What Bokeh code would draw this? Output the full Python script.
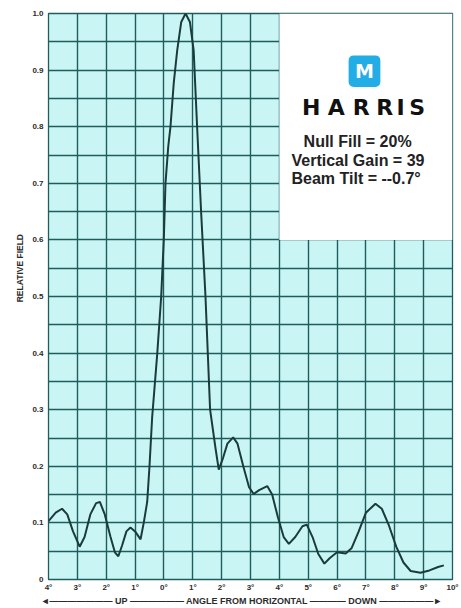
from bokeh.plotting import figure
from bokeh.models import Range1d, FixedTicker, Label, BoxAnnotation
from bokeh.embed import file_html
from bokeh.resources import INLINE

# ---- data ----
angle = [-4.00, -3.75, -3.53, -3.35, -3.15, -2.92, -2.75, -2.55, -2.35, -2.22,
         -2.05, -1.85, -1.70, -1.58, -1.45, -1.30, -1.16, -1.00, -0.81, -0.70,
         -0.58, -0.50, -0.41, -0.23, -0.095, -0.005, 0.054, 0.15, 0.227, 0.34,
         0.46, 0.60, 0.75, 0.90, 1.03, 1.15, 1.29, 1.44, 1.60, 1.79,
         1.90, 2.05, 2.20, 2.40, 2.55, 2.75, 2.95, 3.11, 3.30, 3.58,
         3.75, 3.95, 4.15, 4.33, 4.55, 4.80, 4.95, 5.15, 5.35, 5.56,
         5.75, 6.00, 6.30, 6.50, 6.75, 7.00, 7.33, 7.55, 7.80, 8.05,
         8.30, 8.55, 8.89, 9.20, 9.50, 9.70]
field = [0.103, 0.118, 0.125, 0.115, 0.085, 0.058, 0.075, 0.115, 0.135, 0.137,
         0.115, 0.075, 0.048, 0.041, 0.060, 0.085, 0.092, 0.085, 0.071, 0.100,
         0.137, 0.200, 0.285, 0.400, 0.500, 0.600, 0.700, 0.765, 0.800, 0.877,
         0.935, 0.985, 1.000, 0.985, 0.935, 0.800, 0.648, 0.500, 0.300, 0.231,
         0.194, 0.215, 0.240, 0.251, 0.240, 0.200, 0.163, 0.151, 0.158, 0.165,
         0.150, 0.110, 0.075, 0.063, 0.075, 0.094, 0.097, 0.075, 0.045, 0.028,
         0.038, 0.048, 0.046, 0.055, 0.085, 0.118, 0.134, 0.125, 0.095, 0.058,
         0.030, 0.015, 0.012, 0.016, 0.022, 0.025]

x_ticks = [-4, -3, -2, -1, 0, 1, 2, 3, 4, 5, 6, 7, 8, 9, 10]
x_tick_labels = ["4°", "3°", "2°", "1°", "0°", "1°", "2°", "3°", "4°", "5°",
                 "6°", "7°", "8°", "9°", "10°"]
y_ticks = [0, 0.1, 0.2, 0.3, 0.4, 0.5, 0.6, 0.7, 0.8, 0.9, 1.0]
y_tick_labels = ["0", "0.1", "0.2", "0.3", "0.4", "0.5", "0.6", "0.7", "0.8", "0.9", "1.0"]

brand = "HARRIS"
info_lines = ["Null Fill = 20%", "Vertical Gain = 39", "Beam Tilt = --0.7°"]
y_title = "RELATIVE FIELD"
x_title_parts = ["UP", "ANGLE FROM HORIZONTAL", "DOWN"]

# ---- styling ----
GRID = "#1f5d5d"
INK = "#2b2b2b"
NB = "\u00a0"
DASH = "\u2014"

p = figure(width=461, height=608, output_backend="svg", toolbar_location=None,
           x_range=Range1d(-4, 10), y_range=Range1d(0, 1),
           min_border_left=48, min_border_right=9, min_border_top=13, min_border_bottom=27)
p.background_fill_color = "#c9f6f5"
p.border_fill_color = "white"
p.outline_line_color = GRID
p.outline_line_width = 1.3

p.xgrid.ticker = FixedTicker(ticks=x_ticks)
p.ygrid.ticker = FixedTicker(ticks=[round(i * 0.05, 2) for i in range(21)])
for g in (p.xgrid, p.ygrid):
    g.grid_line_color = GRID
    g.grid_line_width = 1.4
    g.grid_line_alpha = 1.0

p.xaxis.ticker = FixedTicker(ticks=x_ticks)
p.xaxis.major_label_overrides = dict(zip(x_ticks, x_tick_labels))
p.yaxis.ticker = FixedTicker(ticks=y_ticks)
p.yaxis.major_label_overrides = dict(zip(y_ticks, y_tick_labels))
for ax in (p.xaxis, p.yaxis):
    ax.axis_line_color = None
    ax.major_tick_line_color = None
    ax.minor_tick_line_color = None
    ax.major_tick_out = 0
    ax.major_tick_in = 0
    ax.minor_tick_out = 0
    ax.minor_tick_in = 0
    ax.major_label_text_font = "Liberation Sans"
    ax.major_label_text_font_style = "bold"
    ax.major_label_text_color = INK
    ax.major_label_text_font_size = "8px"
    ax.axis_label_text_font = "Liberation Sans"
    ax.axis_label_text_font_style = "bold"
    ax.axis_label_text_color = INK
p.xaxis.major_label_standoff = 3
p.yaxis.major_label_standoff = 5

# y axis title, shifted upward with leading non-breaking spaces
p.yaxis.axis_label = NB * 24 + y_title
p.yaxis.axis_label_text_font_size = "8.5px"
p.yaxis.axis_label_standoff = 4

# x axis title: arrows drawn with dashes
p.xaxis.axis_label = ("\u25c4" + DASH * 7 + " " + x_title_parts[0] + " " + DASH * 6 + " "
                      + x_title_parts[1] + " " + DASH * 4 + " " + x_title_parts[2] + " "
                      + DASH * 6 + "\u25ba" + NB * 7)
p.xaxis.axis_label_text_font_size = "9px"
p.xaxis.axis_label_standoff = 1

# legend box and logo
p.add_layout(BoxAnnotation(left=4.0, right=10, bottom=0.6, top=1.0,
                           fill_color="white", fill_alpha=1.0, line_color=None))
p.add_layout(BoxAnnotation(left=6.4, right=7.5, bottom=0.870, top=0.926,
                           fill_color="#22ade6", fill_alpha=1.0, line_color=None,
                           border_radius=5))
p.add_layout(Label(x=6.95, y=0.898, text="M", text_align="center", text_baseline="middle",
                   text_color="white", text_font="DejaVu Sans",
                   text_font_style="bold", text_font_size="19px"))

letter_x = [5.10, 5.97, 6.84, 7.65, 8.20, 8.78]
for ch, lx in zip(brand, letter_x):
    p.add_layout(Label(x=lx, y=0.834, text=ch, text_align="center", text_baseline="middle",
                       text_color="#111111", text_font="DejaVu Sans",
                       text_font_style="bold", text_font_size="22px"))

info_x = [4.84, 4.42, 4.42]
info_y = [0.773, 0.740, 0.709]
for t, ix, iy in zip(info_lines, info_x, info_y):
    p.add_layout(Label(x=ix, y=iy, text=t, text_align="left", text_baseline="middle",
                       text_color="#222222", text_font="Liberation Sans",
                       text_font_style="bold", text_font_size="16px"))

# curve
p.line(angle, field, line_color="#1b3b3b", line_width=2)

open("out.html", "w").write(file_html(p, INLINE))
